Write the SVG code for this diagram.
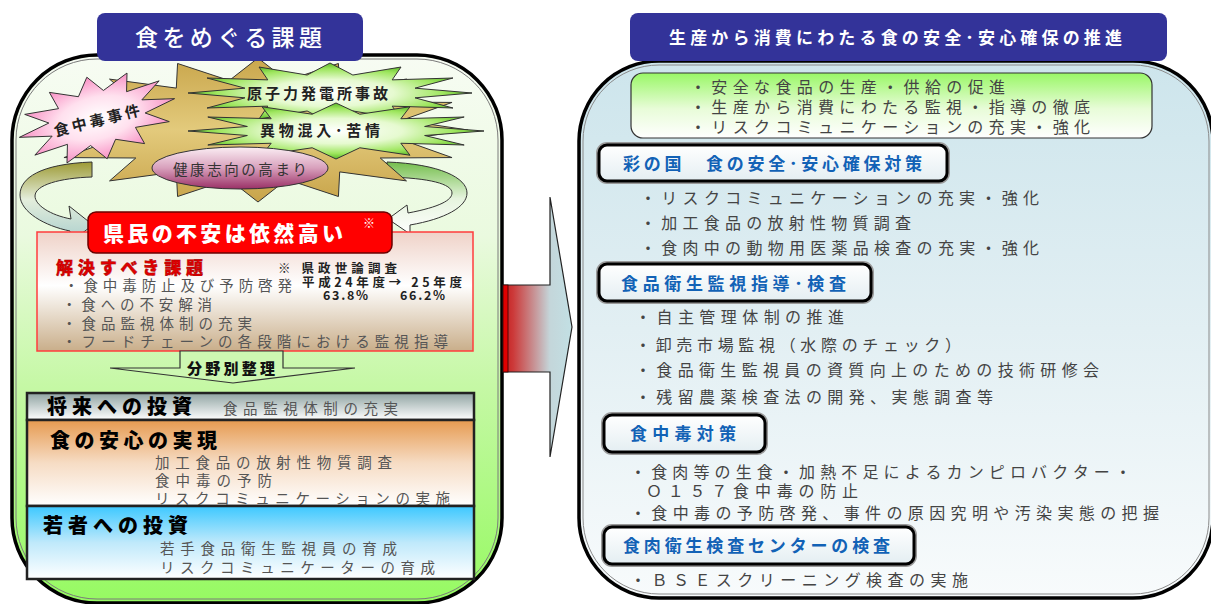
<svg xmlns="http://www.w3.org/2000/svg" width="1211" height="604" viewBox="0 0 1211 604">
<defs>
<style>
text{font-family:'Noto Sans CJK JP','Noto Sans',sans-serif;}
.gl{fill:#555;font-size:14.5px;}
.rb{fill:#444;font-size:16px;}
.hd{fill:#1262b6;font-size:17px;font-weight:700;}
.bt{fill:#000;font-size:20px;font-weight:900;}
.sk{stroke:#333;stroke-width:1;vector-effect:non-scaling-stroke;}
.stx{fill:#222;font-size:15px;font-weight:700;}
.sv{fill:#222;font-size:12.5px;font-weight:700;}
.hhalo{fill:none;stroke:#9a9a9a;stroke-width:6;}
.hbox{fill:url(#hg);stroke:#000;stroke-width:3;}
.tab{fill:#333399;}
.wt{fill:#fff;}
</style>
<linearGradient id="lp" x1="0" y1="0" x2="0" y2="1">
<stop offset="0" stop-color="#f7fcf3"/><stop offset="0.33" stop-color="#eafadf"/><stop offset="0.6" stop-color="#c6f8a6"/><stop offset="1" stop-color="#96fa62"/>
</linearGradient>
<linearGradient id="rp" x1="0" y1="0" x2="0" y2="1">
<stop offset="0" stop-color="#cde5ec"/><stop offset="0.5" stop-color="#e2eff3"/><stop offset="1" stop-color="#f8fbfc"/>
</linearGradient>
<linearGradient id="gb" x1="0" y1="0" x2="0" y2="1">
<stop offset="0" stop-color="#99f766"/><stop offset="0.55" stop-color="#e8fcd8"/><stop offset="1" stop-color="#ffffff"/>
</linearGradient>
<linearGradient id="hg" x1="0" y1="0" x2="0" y2="1">
<stop offset="0" stop-color="#ffffff"/><stop offset="1" stop-color="#e4eef2"/>
</linearGradient>
<linearGradient id="pk" x1="0" y1="0" x2="0" y2="1">
<stop offset="0" stop-color="#efd2c8"/><stop offset="0.45" stop-color="#ffffff"/><stop offset="1" stop-color="#c9ae8a"/>
</linearGradient>
<linearGradient id="g1" x1="0" y1="0" x2="0" y2="1">
<stop offset="0" stop-color="#8fa3a2"/><stop offset="1" stop-color="#ffffff"/>
</linearGradient>
<linearGradient id="g2" x1="0" y1="0" x2="0" y2="1">
<stop offset="0" stop-color="#e69a50"/><stop offset="0.5" stop-color="#f6dcc4"/><stop offset="1" stop-color="#ffffff"/>
</linearGradient>
<linearGradient id="g3" x1="0" y1="0" x2="0" y2="1">
<stop offset="0" stop-color="#3cc8ff"/><stop offset="0.5" stop-color="#bfe9fb"/><stop offset="1" stop-color="#ffffff"/>
</linearGradient>
<linearGradient id="tan" x1="0" y1="0" x2="0" y2="1">
<stop offset="0" stop-color="#c9a64c"/><stop offset="0.5" stop-color="#e3ca7c"/><stop offset="1" stop-color="#c8a44a"/>
</linearGradient>
<radialGradient id="grn" cx="0.5" cy="0.5" r="0.5">
<stop offset="0" stop-color="#ffffff"/><stop offset="0.45" stop-color="#e6fad0"/><stop offset="0.8" stop-color="#9ee65e"/><stop offset="1" stop-color="#5cb82a"/>
</radialGradient>
<radialGradient id="pnk" cx="0.5" cy="0.5" r="0.5">
<stop offset="0" stop-color="#ffffff"/><stop offset="0.5" stop-color="#ffe0ee"/><stop offset="1" stop-color="#f890c4"/>
</radialGradient>
<linearGradient id="el" x1="0" y1="0" x2="0" y2="1">
<stop offset="0" stop-color="#fbeef4"/><stop offset="0.5" stop-color="#d8a0bc"/><stop offset="1" stop-color="#9a3066"/>
</linearGradient>
<linearGradient id="la" gradientUnits="userSpaceOnUse" x1="0" y1="162" x2="0" y2="245">
<stop offset="0" stop-color="#9d9a34"/><stop offset="0.45" stop-color="#e4eedc"/><stop offset="1" stop-color="#a6cccc"/>
</linearGradient>
<linearGradient id="ra" gradientUnits="userSpaceOnUse" x1="0" y1="162" x2="0" y2="235">
<stop offset="0" stop-color="#74be4c"/><stop offset="0.5" stop-color="#e6f4de"/><stop offset="1" stop-color="#ffffff"/>
</linearGradient>
<linearGradient id="ma" gradientUnits="userSpaceOnUse" x1="503" y1="0" x2="572" y2="0">
<stop offset="0" stop-color="#c41e1e"/><stop offset="0.15" stop-color="#cc3a3a"/><stop offset="0.68" stop-color="#c4d6da"/><stop offset="1" stop-color="#c2e0e4"/>
</linearGradient>
</defs>

<rect width="1211" height="604" fill="#ffffff"/>

<!-- LEFT PANEL -->
<g id="left-panel">
<rect x="12" y="55" width="490" height="548" rx="85" fill="url(#lp)" stroke="#000" stroke-width="3.5"/>
<rect x="16" y="59" width="482" height="540" rx="81" fill="none" stroke="#7a7a7a" stroke-width="1"/>
</g>

<!-- RIGHT PANEL -->
<g id="right-panel">
<rect x="579" y="61" width="634" height="537" rx="80" fill="url(#rp)" stroke="#000" stroke-width="3.5"/>
<rect x="583" y="65" width="626" height="529" rx="76" fill="none" stroke="#8a8a8a" stroke-width="1"/>
</g>

<!-- CONNECTORS -->
<g id="connectors">
<path id="arrow-left" d="M92 162 C40 164 20 178 20 195 C20 212 45 226 70 231 L69 243 L93 225 L69 206 L71 219 C50 215 35 205 35 196 C35 185 60 178 92 177 Z" fill="url(#la)" stroke="#333" stroke-width="1"/>
<path id="arrow-right" d="M387 162 C440 164 467 178 467 193 C467 207 445 219 410 225 L410 234 L388 219 L407 205 L408 213 C440 207 452 200 452 193 C452 184 430 178 387 177 Z" fill="url(#ra)" stroke="#333" stroke-width="1"/>
<g id="arrow-main">
<polygon points="503,285 550,285 550,197 572,327 550,457 550,372 503,372" fill="url(#ma)" stroke="#222" stroke-width="1.2"/>
<rect x="503" y="285" width="5" height="87" fill="#e00000" stroke="#300" stroke-width="0.8"/>
</g>
</g>

<!-- STARBURSTS -->
<g id="node-bursts">
<polygon class="sk" fill="url(#tan)" transform="translate(258,130) scale(2.1,0.72)" points="100,0 68.7,13.7 92.4,38.3 58.2,38.9 70.7,70.7 38.9,58.2 38.3,92.4 13.7,68.7 0,100 -13.7,68.7 -38.3,92.4 -38.9,58.2 -70.7,70.7 -58.2,38.9 -92.4,38.3 -68.7,13.7 -100,0 -68.7,-13.7 -92.4,-38.3 -58.2,-38.9 -70.7,-70.7 -38.9,-58.2 -38.3,-92.4 -13.7,-68.7 0,-100 13.7,-68.7 38.3,-92.4 38.9,-58.2 70.7,-70.7 58.2,-38.9 92.4,-38.3 68.7,-13.7"/>
</g>
<g id="node-genshiryoku">
<polygon class="sk" fill="url(#grn)" transform="translate(330,93) scale(1.42,0.3)" points="100,0 59.9,16.1 86.6,50 43.8,43.8 50,86.6 16.1,59.9 0,100 -16.1,59.9 -50,86.6 -43.8,43.8 -86.6,50 -59.9,16.1 -100,0 -59.9,-16.1 -86.6,-50 -43.8,-43.8 -50,-86.6 -16.1,-59.9 0,-100 16.1,-59.9 50,-86.6 43.8,-43.8 86.6,-50 59.9,-16.1"/>
<text class="stx" x="247" y="99" textLength="141" lengthAdjust="spacing">原子力発電所事故</text>
</g>
<g id="node-ibutsu">
<polygon class="sk" fill="url(#grn)" transform="translate(336,131) scale(1.48,0.28)" points="100,0 59.9,16.1 86.6,50 43.8,43.8 50,86.6 16.1,59.9 0,100 -16.1,59.9 -50,86.6 -43.8,43.8 -86.6,50 -59.9,16.1 -100,0 -59.9,-16.1 -86.6,-50 -43.8,-43.8 -50,-86.6 -16.1,-59.9 0,-100 16.1,-59.9 50,-86.6 43.8,-43.8 86.6,-50 59.9,-16.1"/>
<text class="stx" x="260" y="136" textLength="120" lengthAdjust="spacing">異物混入･苦情</text>
</g>
<g id="node-shokuchudoku-jiken">
<polygon class="sk" fill="url(#pnk)" transform="translate(97,118) rotate(-14) scale(0.8,0.42)" points="100,0 59.9,16.1 86.6,50 43.8,43.8 50,86.6 16.1,59.9 0,100 -16.1,59.9 -50,86.6 -43.8,43.8 -86.6,50 -59.9,16.1 -100,0 -59.9,-16.1 -86.6,-50 -43.8,-43.8 -50,-86.6 -16.1,-59.9 0,-100 16.1,-59.9 50,-86.6 43.8,-43.8 86.6,-50 59.9,-16.1"/>
<text class="stx" transform="translate(97,121) rotate(-14)" x="-44" y="5" textLength="88" lengthAdjust="spacing">食中毒事件</text>
</g>
<g id="node-kenko">
<ellipse cx="240" cy="168" rx="88" ry="21" fill="url(#el)" stroke="#333" stroke-width="1"/>
<text x="173" y="175" textLength="134" lengthAdjust="spacing" style="fill:#333;font-size:14.5px;">健康志向の高まり</text>
</g>

<!-- TABS -->
<g id="tab-left">
<rect class="tab" x="97" y="13" width="266" height="48" rx="8"/>
<text class="wt" x="135" y="46" textLength="187" lengthAdjust="spacing" style="font-size:23px;font-weight:500;">食をめぐる課題</text>
</g>
<g id="tab-right">
<rect class="tab" x="630" y="13" width="537" height="48" rx="8"/>
<text class="wt" x="669" y="44" textLength="453" lengthAdjust="spacing" style="font-size:17px;font-weight:700;">生産から消費にわたる食の安全･安心確保の推進</text>
</g>

<!-- ISSUES BOX -->
<g id="node-kadai">
<rect x="37" y="232" width="436" height="119" fill="url(#pk)" stroke="#ff3c3c" stroke-width="1.5"/>
<text x="56" y="274" textLength="147" lengthAdjust="spacing" style="fill:#e00000;font-size:17px;font-weight:900;stroke:#900;stroke-width:0.4;">解決すべき課題</text>
<text class="sv" x="278" y="273" textLength="119" lengthAdjust="spacing">※ 県政世論調査</text>
<text class="sv" x="302" y="287" textLength="160" lengthAdjust="spacing">平成24年度→ 25年度</text>
<text class="sv" x="323" y="300" textLength="45" lengthAdjust="spacing">63.8%</text>
<text class="sv" x="400" y="300" textLength="45" lengthAdjust="spacing">66.2%</text>
<text class="gl" x="64" y="291" textLength="228" lengthAdjust="spacing">・食中毒防止及び予防啓発</text>
<text class="gl" x="62" y="310" textLength="150" lengthAdjust="spacing">・食への不安解消</text>
<text class="gl" x="62" y="329" textLength="190" lengthAdjust="spacing">・食品監視体制の充実</text>
<text class="gl" x="62" y="347" textLength="386" lengthAdjust="spacing">・フードチェーンの各段階における監視指導</text>
</g>

<g id="node-fuan">
<rect x="88" y="212" width="304" height="41" rx="8" fill="#ff0000" stroke="#6a0000" stroke-width="1.5"/>
<text class="wt" x="103" y="241" textLength="240" lengthAdjust="spacing" style="font-size:21px;font-weight:900;">県民の不安は依然高い</text>
<text class="wt" x="363" y="228" style="font-size:12px;">※</text>
</g>

<g id="bunya-arrow">
<polygon points="180,351 283,351 283,368 355,368 233,383 110,368 180,368" fill="#cdf8b2" stroke="#333" stroke-width="1.2"/>
<text x="187" y="374" textLength="88" lengthAdjust="spacing" style="fill:#111;font-size:15px;font-weight:900;">分野別整理</text>
</g>

<!-- BOTTOM LEFT BOXES -->
<g id="node-shorai">
<rect x="27" y="393" width="447" height="27" fill="url(#g1)" stroke="#222" stroke-width="2.5"/>
<text class="bt" x="47" y="414" textLength="145" lengthAdjust="spacing">将来への投資</text>
<text class="gl" x="223" y="414" textLength="175" lengthAdjust="spacing">食品監視体制の充実</text>
</g>
<g id="node-anshin">
<rect x="27" y="420" width="447" height="86" fill="url(#g2)" stroke="#222" stroke-width="2.5"/>
<text class="bt" x="50" y="448" textLength="167" lengthAdjust="spacing">食の安心の実現</text>
<text class="gl" x="155" y="468" textLength="237" lengthAdjust="spacing">加工食品の放射性物質調査</text>
<text class="gl" x="155" y="486" textLength="117" lengthAdjust="spacing">食中毒の予防</text>
<text class="gl" x="155" y="504" textLength="295" lengthAdjust="spacing">リスクコミュニケーションの実施</text>
</g>
<g id="node-wakamono">
<rect x="27" y="506" width="447" height="73" fill="url(#g3)" stroke="#222" stroke-width="2.5"/>
<text class="bt" x="43" y="533" textLength="145" lengthAdjust="spacing">若者への投資</text>
<text class="gl" x="160" y="554" textLength="237" lengthAdjust="spacing">若手食品衛生監視員の育成</text>
<text class="gl" x="160" y="573" textLength="275" lengthAdjust="spacing">リスクコミュニケーターの育成</text>
</g>

<!-- RIGHT CONTENT -->
<g id="node-goals">
<rect x="631" y="73" width="521" height="65" rx="12" fill="url(#gb)" stroke="#333" stroke-width="1.2"/>
<text class="rb" x="690" y="93" textLength="315" lengthAdjust="spacing">・安全な食品の生産・供給の促進</text>
<text class="rb" x="690" y="113" textLength="400" lengthAdjust="spacing">・生産から消費にわたる監視・指導の徹底</text>
<text class="rb" x="690" y="133" textLength="400" lengthAdjust="spacing">・リスクコミュニケーションの充実・強化</text>
</g>

<g id="node-sainokuni">
<rect class="hhalo" x="599" y="145" width="348" height="36" rx="8"/>
<rect class="hbox" x="599" y="145" width="348" height="36" rx="8"/>
<text class="hd" x="623" y="170" textLength="299" lengthAdjust="spacing">彩の国　食の安全･安心確保対策</text>
<text class="rb" x="640" y="204" textLength="399" lengthAdjust="spacing">・リスクコミュニケーションの充実・強化</text>
<text class="rb" x="640" y="229" textLength="271" lengthAdjust="spacing">・加工食品の放射性物質調査</text>
<text class="rb" x="640" y="254" textLength="399" lengthAdjust="spacing">・食肉中の動物用医薬品検査の充実・強化</text>
</g>

<g id="node-kanshi">
<rect class="hhalo" x="599" y="264" width="272" height="37" rx="8"/>
<rect class="hbox" x="599" y="264" width="272" height="37" rx="8"/>
<text class="hd" x="621" y="290" textLength="225" lengthAdjust="spacing">食品衛生監視指導･検査</text>
<text class="rb" x="635" y="323" textLength="209" lengthAdjust="spacing">・自主管理体制の推進</text>
<text class="rb" x="635" y="351" textLength="326" lengthAdjust="spacing">・卸売市場監視（水際のチェック）</text>
<text class="rb" x="635" y="376" textLength="464" lengthAdjust="spacing">・食品衛生監視員の資質向上のための技術研修会</text>
<text class="rb" x="635" y="403" textLength="358" lengthAdjust="spacing">・残留農薬検査法の開発、実態調査等</text>
</g>

<g id="node-chudoku">
<rect class="hhalo" x="604" y="415" width="161" height="37" rx="8"/>
<rect class="hbox" x="604" y="415" width="161" height="37" rx="8"/>
<text class="hd" x="630" y="440" textLength="106" lengthAdjust="spacing">食中毒対策</text>
<text class="rb" x="630" y="478" textLength="501" lengthAdjust="spacing">・食肉等の生食・加熱不足によるカンピロバクター・</text>
<text class="rb" x="646" y="497" textLength="212" lengthAdjust="spacing">Ｏ１５７食中毒の防止</text>
<text class="rb" x="630" y="519" textLength="529" lengthAdjust="spacing">・食中毒の予防啓発、事件の原因究明や汚染実態の把握</text>
</g>

<g id="node-shokuniku">
<rect class="hhalo" x="604" y="527" width="310" height="37" rx="8"/>
<rect class="hbox" x="604" y="527" width="310" height="37" rx="8"/>
<text class="hd" x="623" y="552" textLength="267" lengthAdjust="spacing">食肉衛生検査センターの検査</text>
<text class="rb" x="630" y="586" textLength="338" lengthAdjust="spacing">・ＢＳＥスクリーニング検査の実施</text>
</g>
</svg>
